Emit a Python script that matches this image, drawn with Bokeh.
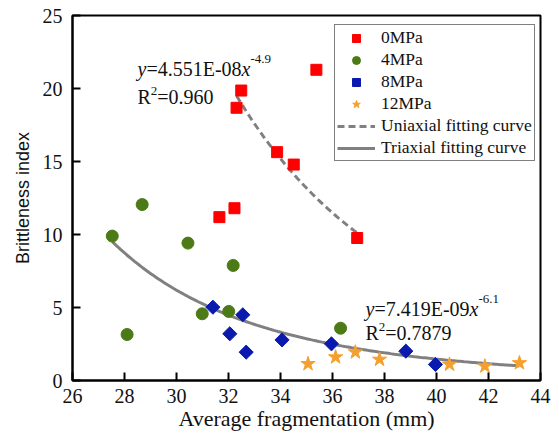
import numpy as np
from bokeh.plotting import figure
from bokeh.models import Label, Legend, LegendItem, FixedTicker, Range1d
from bokeh.embed import file_html
from bokeh.resources import INLINE

# ---- data ----
x_0mpa = [32.49, 32.31, 33.87, 34.51, 35.38, 31.65, 32.23, 36.95]
y_0mpa = [19.86, 18.68, 15.64, 14.79, 21.28, 11.19, 11.80, 9.76]
x_4mpa = [27.53, 28.68, 28.10, 30.44, 32.18, 30.99, 32.01, 36.31]
y_4mpa = [9.89, 12.05, 3.15, 9.41, 7.88, 4.57, 4.73, 3.58]
x_8mpa = [31.40, 32.55, 32.05, 32.68, 34.06, 35.96, 38.82, 39.96]
y_8mpa = [5.02, 4.50, 3.20, 1.94, 2.78, 2.51, 2.01, 1.10]
x_12mpa = [35.06, 36.12, 36.88, 37.81, 40.50, 41.86, 43.19]
y_12mpa = [1.14, 1.60, 1.94, 1.44, 1.10, 0.98, 1.20]

# fitted power curves y = coef * x ** exp (as drawn)
uni_coef, uni_exp, uni_range = 4.852e8, -4.9, (32.31, 36.95)
tri_coef, tri_exp, tri_range = 1.504e8, -5.0, (27.53, 43.19)

x_ticks = [26, 28, 30, 32, 34, 36, 38, 40, 42, 44]
y_ticks = [0, 5, 10, 15, 20, 25]
x_title = "Average fragmentation (mm)"
y_title = "Brittleness index"

SERIF = "Liberation Serif"

p = figure(width=551, height=436, x_range=Range1d(26, 44), y_range=Range1d(0, 25),
           output_backend="svg", toolbar_location=None,
           min_border_left=72, min_border_right=11, min_border_top=15, min_border_bottom=56)
p.xgrid.visible = False
p.ygrid.visible = False
p.outline_line_color = "black"
p.outline_line_width = 2
p.background_fill_color = "white"
p.border_fill_color = "white"

for ax in (p.xaxis[0], p.yaxis[0]):
    ax.axis_line_width = 2
    ax.axis_line_color = "black"
    ax.major_tick_in = 8
    ax.major_tick_out = 0
    ax.major_tick_line_width = 2
    ax.major_tick_line_color = "black"
    ax.minor_tick_line_color = None
    ax.major_label_text_font = SERIF
    ax.major_label_text_font_size = "20px"
    ax.major_label_text_color = "#111111"

p.xaxis.ticker = FixedTicker(ticks=x_ticks)
p.yaxis.ticker = FixedTicker(ticks=y_ticks)
p.xaxis.major_label_standoff = 8
p.yaxis.major_label_standoff = 10
p.xaxis.axis_label = x_title
p.xaxis.axis_label_text_font = SERIF
p.xaxis.axis_label_text_font_size = "22px"
p.xaxis.axis_label_text_font_style = "normal"
p.xaxis.axis_label_text_color = "#111111"
p.xaxis.axis_label_standoff = 0
p.yaxis.axis_label = y_title
p.yaxis.axis_label_text_font = "Liberation Sans"
p.yaxis.axis_label_text_font_size = "18px"
p.yaxis.axis_label_text_font_style = "normal"
p.yaxis.axis_label_text_color = "#111111"
p.yaxis.axis_label_standoff = 7

# fit curves
xu = np.linspace(uni_range[0], uni_range[1], 100)
ru = p.line(xu, uni_coef * xu ** uni_exp, line_color="#808080", line_width=3, line_dash="7 4")
xt = np.linspace(tri_range[0], tri_range[1], 200)
rt = p.line(xt, tri_coef * xt ** tri_exp, line_color="#808080", line_width=3)

# scatter series
r0 = p.scatter(x_0mpa, y_0mpa, marker="square", size=11, fill_color="#FF0000", line_color="#FF0000")
r4 = p.scatter(x_4mpa, y_4mpa, marker="circle", size=12, fill_color="#4B7A16", line_color="#4B7A16")
r8 = p.scatter(x_8mpa, y_8mpa, marker="square", angle=np.pi / 4, size=10,
               fill_color="#0A1AAE", line_color="#0A1AAE")
r12 = p.scatter(x_12mpa, y_12mpa, marker="star", size=15, fill_color="#F4A030", line_color="#F4A030")

legend = Legend(items=[
    LegendItem(label="0MPa", renderers=[r0]),
    LegendItem(label="4MPa", renderers=[r4]),
    LegendItem(label="8MPa", renderers=[r8]),
    LegendItem(label="12MPa", renderers=[r12]),
    LegendItem(label="Uniaxial fitting curve", renderers=[ru]),
    LegendItem(label="Triaxial fitting curve", renderers=[rt]),
], location=(262, 219))
legend.label_text_font = SERIF
legend.label_text_font_size = "17.5px"
legend.label_text_color = "#111111"
legend.glyph_width = 38
legend.glyph_height = 20
legend.label_height = 20
legend.label_standoff = 6
legend.spacing = 1
legend.padding = 2
legend.margin = 0
legend.border_line_color = "black"
legend.border_line_width = 1
legend.background_fill_color = "white"
legend.background_fill_alpha = 1.0
p.add_layout(legend)


def equation(x, y, coef_txt, exp_txt, r2_txt, dy):
    parts = [
        ("y", 0, 0, "italic", "20px"),
        (coef_txt, 8.9, 0, "normal", "20px"),
        ("x", 104.0, 0, "italic", "20px"),
        (exp_txt, 112.9, 10, "normal", "13px"),
    ]
    for txt, xo, yo, style, size in parts:
        p.add_layout(Label(x=x, y=y, x_offset=xo, y_offset=yo, text=txt, text_font=SERIF,
                           text_font_size=size, text_font_style=style, text_color="#111111",
                           text_baseline="alphabetic"))
    parts2 = [
        ("R", 0, 0, "20px"),
        ("2", 13.3, 6, "13px"),
        (r2_txt, 19.8, 0, "20px"),
    ]
    for txt, xo, yo, size in parts2:
        p.add_layout(Label(x=x, y=y - dy, x_offset=xo, y_offset=yo, text=txt, text_font=SERIF,
                           text_font_size=size, text_color="#111111",
                           text_baseline="alphabetic"))


equation(28.5, 21.33, "=4.551E-08", "-4.9", "=0.960", 1.92)
equation(37.27, 4.91, "=7.419E-09", "-6.1", "=0.7879", 1.64)

open("out.html", "w").write(file_html(p, INLINE))
